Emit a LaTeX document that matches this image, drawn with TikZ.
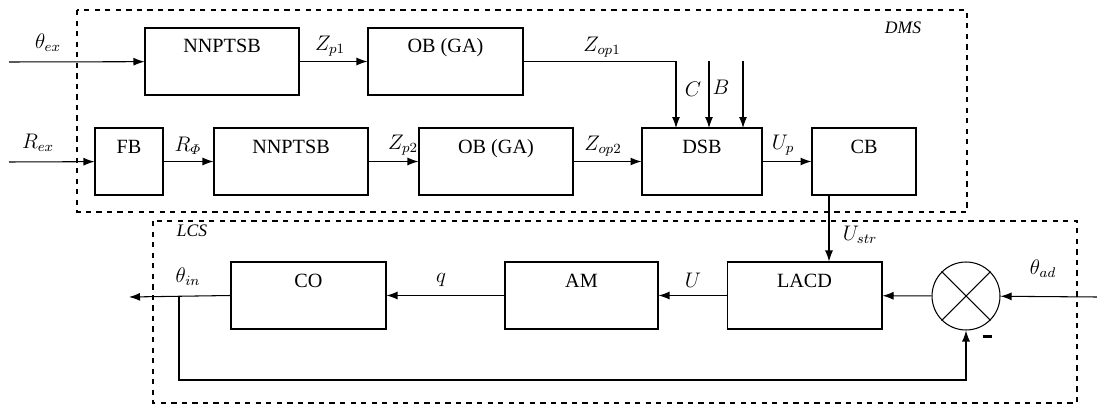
\documentclass[tikz,border=0pt]{standalone}
\usepackage{fontspec}
\setmainfont{Liberation Serif}
\usepackage{tikz}
\usetikzlibrary{arrows.meta}

\begin{document}
\begin{tikzpicture}[>={Latex[length=2.2mm,width=1.6mm]}, x=0.02cm, y=-0.02cm, line width=0.6pt,
  font=\rmfamily\fontsize{11.5}{13}\selectfont,
  blk/.style={draw, minimum width=#1, inner sep=0.1cm, text height=0.4cm, text depth=0.74cm},
  sgn/.style={inner sep=1pt},
  zone/.style={font=\rmfamily\fontsize{10}{12}\selectfont\itshape, inner sep=0pt}]
\useasboundingbox (0,0) rectangle (1097,405);

%boxes
\node[blk=3.08cm] (NN1) at (222,61.5)  {NNPTSB};
\node[blk=3.1cm]  (OB1) at (445.5,61.5) {OB (GA)};
\node[blk=1.36cm] (FB)  at (129,161.5) {FB};
\node[blk=3.08cm] (NN2) at (291,161.5) {NNPTSB};
\node[blk=3.08cm] (OB2) at (496,161.5) {OB (GA)};
\node[blk=2.4cm]  (DSB) at (702,161.5) {DSB};
\node[blk=2.08cm] (CB)  at (864,161.5) {CB};
\node[blk=3.1cm]  (CO)  at (308.5,295.5) {CO};
\node[blk=3.06cm] (AM)  at (581.5,295.5) {AM};
\node[blk=3.1cm]  (LACD) at (804.5,295.5) {LACD};
\node[circle, draw, minimum size=1.36cm, inner sep=0pt] (sum) at (966,296) {};
\draw (sum.north west)--(sum.south east);
\draw (sum.north east)--(sum.south west);

%free ends
\coordinate (thex) at (9,62);
\coordinate (rex)  at (9,162);
\coordinate (cin)  at (676,128);
\coordinate (bin)  at (709,128);
\coordinate (ain)  at (743,128);
\coordinate (ustr) at (829,195);
\coordinate (thad) at (1097,297);
\coordinate (thin) at (129,297);
\coordinate (fb)   at (179,297);
\coordinate (fbb)  at (179,380);

%top row
\draw [->] (thex)--(NN1);
\draw [->] (NN1)--(OB1);
\draw [->] (OB1.east) -| (cin);
\draw [->] (bin |- NN1) -- (bin);
\draw [->] (ain |- NN1) -- (ain);

%second row
\draw [->] (rex)--(FB);
\draw [->] (FB)--(NN2);
\draw [->] (NN2)--(OB2);
\draw [->] (OB2)--(DSB);
\draw [->] (DSB)--(CB);
\draw [->] (ustr) -- (ustr |- LACD.north);

%loop
\draw [->] (thad)--(sum);
\draw [->] (sum)--(LACD);
\draw [->] (LACD)--(AM);
\draw [->] (AM)--(CO);
\draw [->] (CO.west)--(thin);
\draw [->] (fb)--(fbb) -| (sum.south);

%zones
\draw [dashed] (77,10) rectangle (967,212);
\draw [dashed] (153,221) rectangle (1077,403);
\node[zone] (dms) at (903,28)  {DMS};
\node[zone] (lcs) at (192,231) {LCS};

%labels
\node[sgn] (lthex) at (48,43)   {$\theta_{ex}$};
\node[sgn] (lrex)  at (38,143)  {$R_{ex}$};
\node[sgn] (lzp1)  at (330,46)  {$Z_{p1}$};
\node[sgn] (lrphi) at (188,146) {$R_{\mathnormal{\Phi}}$};
\node[sgn] (lzop1) at (602,47)  {$Z_{op1}$};
\node[sgn] (lc)    at (693,89)  {$C$};
\node[sgn] (lb)    at (721,87)  {$B$};
\node[sgn] (lzp2)  at (403,145) {$Z_{p2}$};
\node[sgn] (lzop2) at (603,146) {$Z_{op2}$};
\node[sgn] (lup)   at (783,145) {$U_{p}$};
\node[sgn] (lustr) at (860,235) {$U_{str}$};
\node[sgn] (lthin) at (188,277) {$\theta_{in}$};
\node[sgn] (lq)    at (441,280) {$q$};
\node[sgn] (lu)    at (693,280) {$U$};
\node[sgn] (lthad) at (1043,269) {$\theta_{ad}$};
\node[sgn] (lmin)  at (987,336) {\rule{0.18cm}{0.06cm}};
\end{tikzpicture}
\end{document}
